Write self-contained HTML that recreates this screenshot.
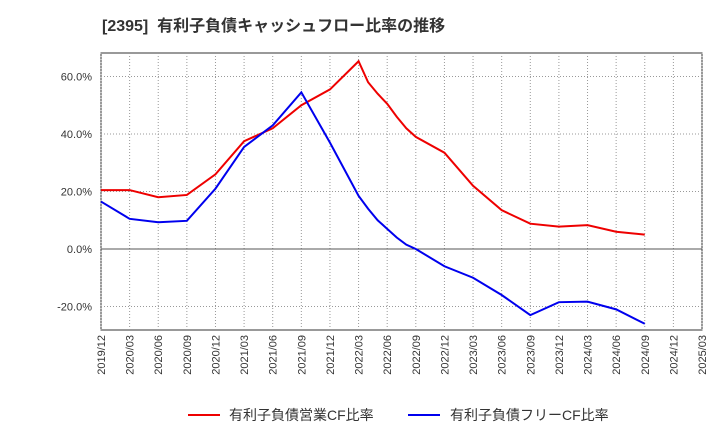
<!DOCTYPE html>
<html><head><meta charset="utf-8"><style>
body{margin:0;background:#fff;width:720px;height:440px;overflow:hidden;font-family:"Liberation Sans","Noto Sans CJK JP",sans-serif;}
</style></head><body>
<svg id="c" width="720" height="440" xmlns="http://www.w3.org/2000/svg">
<text x="102" y="31" font-size="16" font-weight="bold" fill="#333" style="white-space:pre" font-family="Liberation Sans, Noto Sans CJK JP, sans-serif">[2395]  有利子負債キャッシュフロー比率の推移</text>
</svg>
<script>
const xTicks=["2019/12","2020/03","2020/06","2020/09","2020/12","2021/03","2021/06","2021/09","2021/12","2022/03","2022/06","2022/09","2022/12","2023/03","2023/06","2023/09","2023/12","2024/03","2024/06","2024/09","2024/12","2025/03"];
const yTicks=[-20,0,20,40,60];
const redMonths=[0,3,6,9,12,15,18,21,24,27,28,29,30,31,32,33,36,39,42,45,48,51,54,57];
const redValues=[20.5,20.5,18,18.8,26,37.5,42,50,55.5,65.3,58,54,50.5,46,42,39,33.5,22,13.5,8.8,7.8,8.3,6,5];
const blueMonths=[0,3,6,9,12,15,18,21,24,27,28,29,30,31,32,33,36,39,42,45,48,51,54,57];
const blueValues=[16.5,10.5,9.3,9.8,21,35.5,43,54.5,37,18.5,14,10,7,4,1.5,0,-6,-10,-16,-23,-18.5,-18.3,-21,-26];
const svg=document.getElementById('c');const NS="http://www.w3.org/2000/svg";
const L=101,R=702,T=53,B=330;
const xs=m=>L+(R-L)*m/63;
const ys=v=>249-v*2.875;
function mk(t,a,p){const e=document.createElementNS(NS,t);for(const k in a)e.setAttribute(k,a[k]);(p||svg).appendChild(e);return e;}
const frame=mk('rect',{x:L,y:T,width:R-L,height:B-T,fill:'#fff',stroke:'#333','stroke-width':1});


xTicks.forEach((t,i)=>{const x=xs(i*3);
const g=mk('line',{x1:x,x2:x,y1:T,y2:B,stroke:'#999','stroke-dasharray':'1,2'});


const tx=mk('text',{x:0,y:0,'font-size':11,fill:'#333','text-anchor':'end',transform:`translate(${x+4},${B+5}) rotate(-90)`});
tx.textContent=t;

});
yTicks.forEach(v=>{const y=ys(v);
const g=mk('line',{x1:L,x2:R,y1:y,y2:y,stroke:v===0?'#555':'#999','stroke-dasharray':v===0?'':'1,2'});


const tx=mk('text',{x:92,y:y+4,'font-size':11,fill:'#333','text-anchor':'end'});
tx.textContent=v.toFixed(1)+'%';

});
function line(ms,vs,c,n){const p=mk('polyline',{points:ms.map((m,i)=>xs(m)+','+ys(vs[i])).join(' '),fill:'none',stroke:c,'stroke-width':2});

}
line(redMonths,redValues,'#e00','series-operating-cf-ratio');
line(blueMonths,blueValues,'#00e','series-free-cf-ratio');
const lg1=mk('line',{x1:188,x2:220,y1:415,y2:415,stroke:'#e00','stroke-width':2});


const lt1=mk('text',{x:229,y:420,'font-size':14,fill:'#333'});lt1.textContent='有利子負債営業CF比率';


const lg2=mk('line',{x1:408,x2:440,y1:415,y2:415,stroke:'#00e','stroke-width':2});


const lt2=mk('text',{x:450,y:420,'font-size':14,fill:'#333'});lt2.textContent='有利子負債フリーCF比率';


</script>
</body></html>
